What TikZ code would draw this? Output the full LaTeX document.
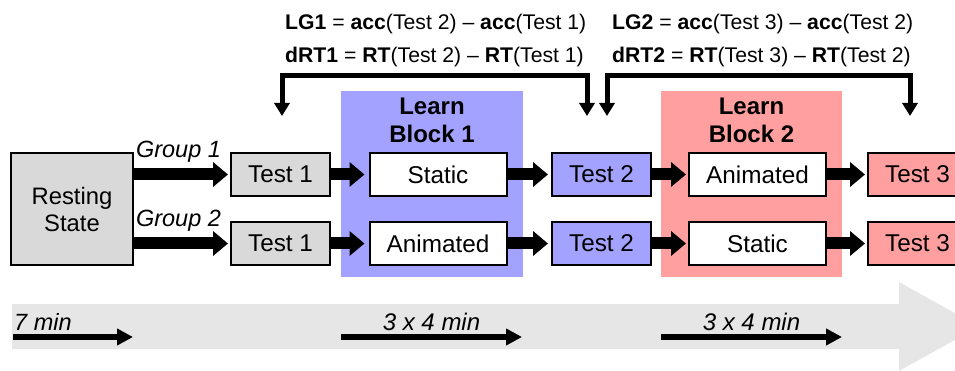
\documentclass[tikz,border=0pt]{standalone}
\usepackage{fontspec}
\setmainfont{Liberation Sans}
\usetikzlibrary{arrows.meta}
\definecolor{lblue}{HTML}{A3A3FF}
\definecolor{lred}{HTML}{FF9F9F}
\definecolor{boxgray}{HTML}{D9D9D9}
\definecolor{bandgray}{HTML}{E6E6E6}
\tikzset{
  big/.style={font=\fontsize{24.3}{28}\selectfont},
  frm/.style={font=\fontsize{21.2}{24}\selectfont, inner sep=0pt, anchor=base west},
  box/.style={draw=black, line width=2pt, inner sep=0pt, minimum height=43pt, big},
  testbox/.style={box, minimum width=99pt},
  condbox/.style={box, minimum width=137pt, fill=white},
  fat/.style={line width=12pt, -{Triangle[length=15pt,width=24pt]}},
  brk/.style={line width=5pt, {Triangle[length=13pt,width=15pt]}-{Triangle[length=13pt,width=15pt]}},
  tline/.style={line width=5.5pt, -{Triangle[length=16pt,width=16pt]}},
  lbl/.style={inner sep=0pt, anchor=base},
  boldlbl/.style={lbl, font=\fontsize{24}{28}\selectfont\bfseries},
  itlbl/.style={lbl, font=\fontsize{23.5}{28}\selectfont\itshape},
}
\begin{document}
\begin{tikzpicture}[x=1pt,y=-1pt]
\useasboundingbox (0,0) rectangle (955,371);
\clip (0,0) rectangle (955,371);
% timeline band
\fill[bandgray] (12,304) -- (899,304) -- (899,282) -- (979,326.5) -- (899,371) -- (899,349) -- (12,349) -- cycle;
% learn blocks
\fill[lblue] (341,91) rectangle (523,277);
\fill[lred] (661,91) rectangle (842,277);
\node[boldlbl] (lb1a) at (432,115) {Learn};
\node[boldlbl] (lb1b) at (432,143) {Block 1};
\node[boldlbl] (lb2a) at (751.5,115) {Learn};
\node[boldlbl] (lb2b) at (751.5,143) {Block 2};
% boxes
\node[box, fill=boxgray, minimum width=122pt, minimum height=112pt, align=center, font=\fontsize{23.8}{27}\selectfont] (rest) at (72,209) {Resting\\State};
\node[testbox, fill=boxgray] (t1a) at (280.5,174.5) {Test 1};
\node[testbox, fill=boxgray] (t1b) at (280.5,243.5) {Test 1};
\node[condbox] (s1a) at (438,174.5) {Static};
\node[condbox] (s1b) at (438,243.5) {Animated};
\node[testbox, fill=lblue] (t2a) at (601.5,174.5) {Test 2};
\node[testbox, fill=lblue] (t2b) at (601.5,243.5) {Test 2};
\node[condbox] (s2a) at (757.5,174.5) {Animated};
\node[condbox] (s2b) at (757.5,243.5) {Static};
\node[testbox, fill=lred] (t3a) at (917.5,174.5) {Test 3};
\node[testbox, fill=lred] (t3b) at (917.5,243.5) {Test 3};
% group labels
\node[itlbl] (g1) at (178.5,158) {Group 1};
\node[itlbl] (g2) at (178.5,227) {Group 2};
% fat arrows
\draw[fat, shorten >=2pt] (rest.east |- t1a.west) -- (t1a.west);
\draw[fat, shorten >=2pt] (rest.east |- t1b.west) -- (t1b.west);
\draw[fat, shorten >=4pt] (t1a.east) -- (s1a.west);
\draw[fat, shorten >=4pt] (t1b.east) -- (s1b.west);
\draw[fat, shorten >=3pt] (s1a.east) -- (t2a.west);
\draw[fat, shorten >=3pt] (s1b.east) -- (t2b.west);
\draw[fat, shorten >=2pt] (t2a.east) -- (s2a.west);
\draw[fat, shorten >=2pt] (t2b.east) -- (s2b.west);
\draw[fat, shorten >=2pt] (s2a.east) -- (t3a.west);
\draw[fat, shorten >=2pt] (s2b.east) -- (t3b.west);
% formulas
\node[frm] (f1) at (285,30) {\textbf{LG1} = \textbf{acc}(Test 2) -- \textbf{acc}(Test 1)};
\node[frm] (f2) at (285,63) {\textbf{dRT1} = \textbf{RT}(Test 2) -- \textbf{RT}(Test 1)};
\node[frm] (f3) at (612,30) {\textbf{LG2} = \textbf{acc}(Test 3) -- \textbf{acc}(Test 2)};
\node[frm] (f4) at (612,63) {\textbf{dRT2} = \textbf{RT}(Test 3) -- \textbf{RT}(Test 2)};
% brackets
\coordinate (b1l) at (282,116);
\coordinate (b1r) at (587,116);
\coordinate (b2l) at (607,116);
\coordinate (b2r) at (910,116);
\draw[brk] (b1l) -- ++(0,-40) -| (b1r);
\draw[brk] (b2l) -- ++(0,-40) -| (b2r);
% timeline arrows
\coordinate (a1s) at (13,337);  \coordinate (a1e) at (133,337);
\coordinate (a2s) at (341,337); \coordinate (a2e) at (522,337);
\coordinate (a3s) at (661,337); \coordinate (a3e) at (842,337);
\draw[tline] (a1s) -- (a1e);
\draw[tline] (a2s) -- (a2e);
\draw[tline] (a3s) -- (a3e);
\node[inner sep=0pt, anchor=base west, font=\fontsize{23.5}{28}\selectfont\itshape] (m1) at (14,330) {7 min};
\node[itlbl, font=\fontsize{24}{28}\selectfont\itshape] (m2) at (431.5,330) {3 x 4 min};
\node[itlbl, font=\fontsize{24}{28}\selectfont\itshape] (m3) at (751.5,330) {3 x 4 min};
\end{tikzpicture}
\end{document}
